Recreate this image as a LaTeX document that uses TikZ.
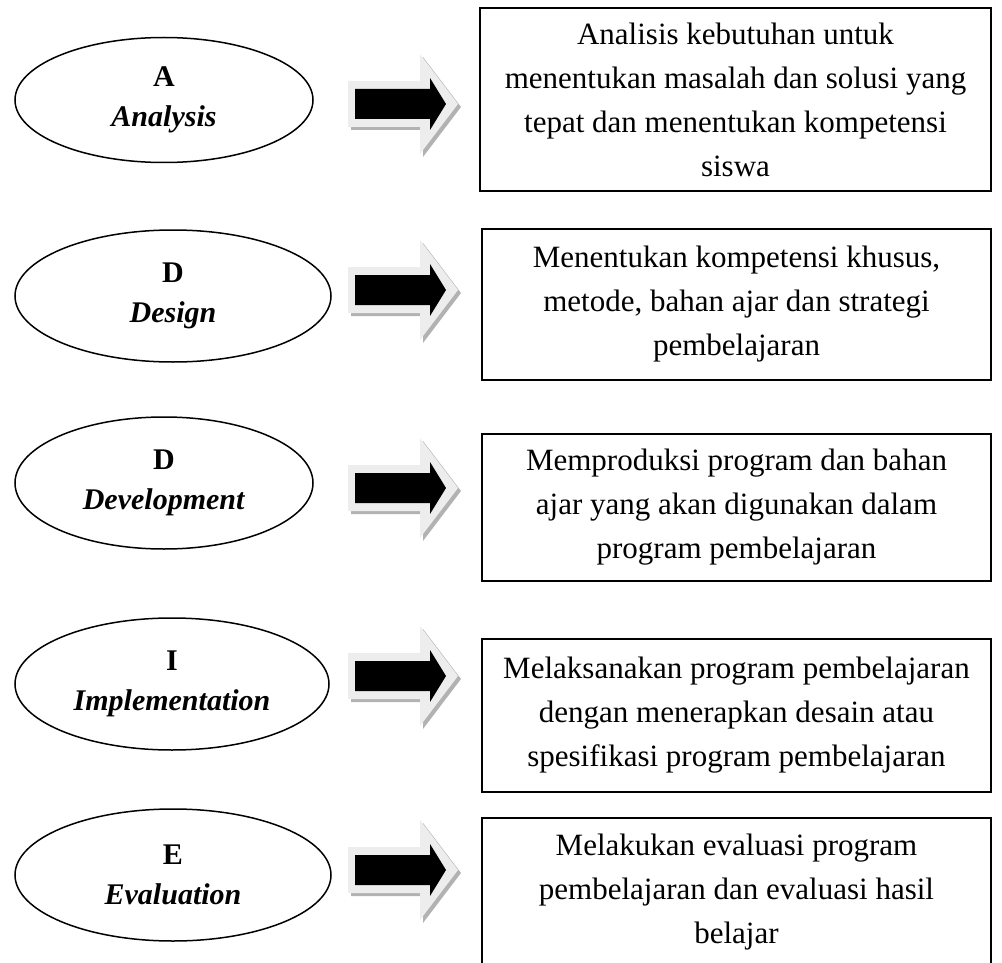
\documentclass[tikz,border=0pt]{standalone}
\usepackage{fontspec}
\setmainfont{Liberation Serif}
\usetikzlibrary{shapes.geometric}
\tikzset{
  phase/.style={ellipse,draw,line width=1.5pt,inner sep=0pt,align=center,
    font=\fontsize{30}{40}\selectfont\bfseries},
  desc/.style={rectangle,draw,line width=1.8pt,inner sep=0pt,align=center,
    font=\fontsize{31}{44}\selectfont},
  arrshadow/.style={fill=black!30},
  arrlight/.style={fill=black!7},
  arrdark/.style={fill=black},
  blockarr/.pic={
    \fill[arrshadow,shift={(3,3)}] (348,-23) -- (420,-23) -- (420,-50) -- (458,0)
      -- (420,50) -- (420,23) -- (348,23) -- cycle;
    \fill[arrlight] (348,-23) -- (420,-23) -- (420,-50) -- (458,0)
      -- (420,50) -- (420,23) -- (348,23) -- cycle;
    \fill[arrdark] (355,-15) -- (430,-15) -- (430,-26) -- (446,0)
      -- (430,26) -- (430,15) -- (355,15) -- cycle;
  }
}
\begin{document}
\begin{tikzpicture}[x=1pt,y=-1pt]
\useasboundingbox (0,0) rectangle (1002,963);

% phases
\node[phase,minimum width=298pt,minimum height=125pt] (pA) at (164,100)
  {A\\\textit{Analysis}};
\node[phase,minimum width=316pt,minimum height=132pt] (pD1) at (173,296)
  {D\\\textit{Design}};
\node[phase,minimum width=298pt,minimum height=132pt] (pD2) at (164,483)
  {D\\\textit{Development}};
\node[phase,minimum width=314pt,minimum height=132pt] (pI) at (172,684)
  {I\\\textit{Implementation}};
\node[phase,minimum width=316pt,minimum height=132pt] (pE) at (173,875)
  {E\\\textit{Evaluation}};

% arrows
\pic (aA) at (0,104) {blockarr};
\pic (aD1) at (0,290) {blockarr};
\pic (aD2) at (0,488) {blockarr};
\pic (aI) at (0,676) {blockarr};
\pic (aE) at (0,870) {blockarr};

% descriptions
\node[desc,minimum width=511pt,minimum height=183pt] (dA) at (735.5,99.5)
  {Analisis kebutuhan untuk\\menentukan masalah dan solusi yang\\tepat dan menentukan kompetensi\\siswa};
\node[desc,minimum width=509pt,minimum height=151pt] (dD1) at (736.5,304.5)
  {Menentukan kompetensi khusus,\\metode, bahan ajar dan strategi\\pembelajaran};
\node[desc,minimum width=509pt,minimum height=147pt] (dD2) at (736.5,507.5)
  {Memproduksi program dan bahan\\ajar yang akan digunakan dalam\\program pembelajaran};
\node[desc,minimum width=509pt,minimum height=153pt] (dI) at (736.5,715.5)
  {Melaksanakan program pembelajaran\\dengan menerapkan desain atau\\spesifikasi program pembelajaran};
\node[desc,minimum width=509pt,minimum height=148pt] (dE) at (736.5,892)
  {Melakukan evaluasi program\\pembelajaran dan evaluasi hasil\\belajar};
\end{tikzpicture}
\end{document}
